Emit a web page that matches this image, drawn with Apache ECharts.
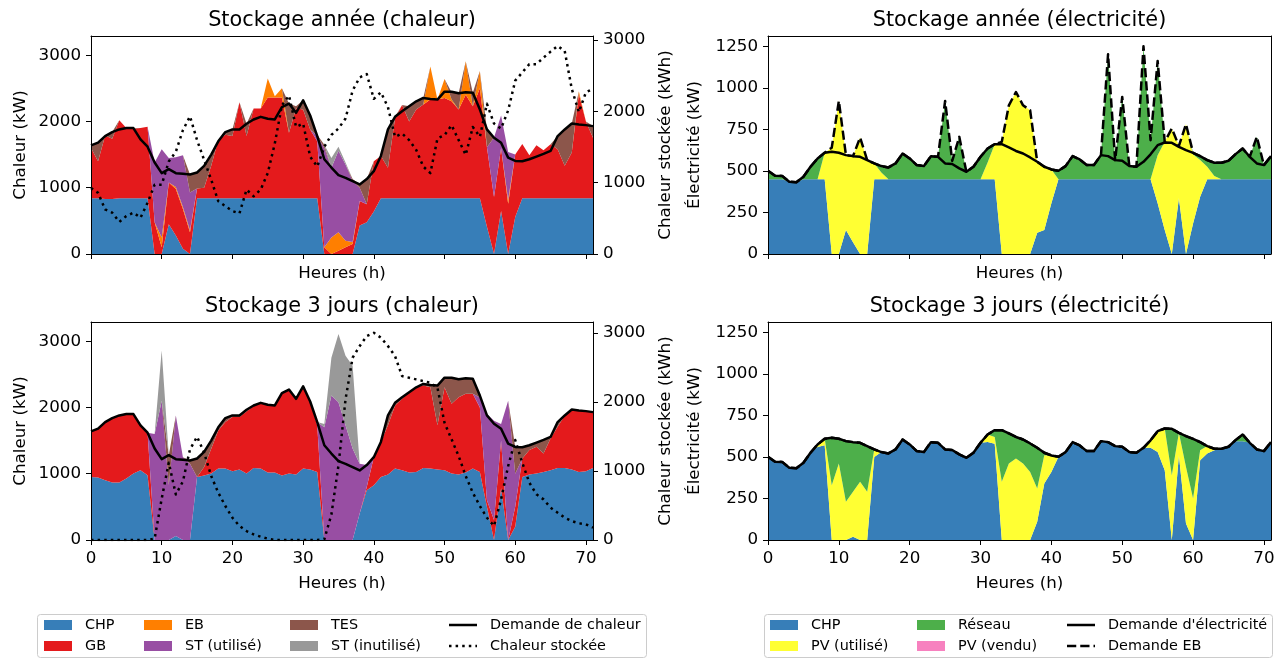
<!DOCTYPE html>
<html><head><meta charset="utf-8">
<script src="https://cdn.jsdelivr.net/npm/echarts@6/dist/echarts.min.js"></script>
<style>html,body{margin:0;padding:0;background:#fff}#c{width:1279px;height:659px}</style>
</head><body><div id="c"></div>
<script>
// ---------------- DATA ----------------
const hours = [0,1,2,3,4,5,6,7,8,9,10,11,12,13,14,15,16,17,18,19,20,21,22,23,24,25,26,27,28,29,30,31,32,33,34,35,36,37,38,39,40,41,42,43,44,45,46,47,48,49,50,51,52,53,54,55,56,57,58,59,60,61,62,63,64,65,66,67,68,69,70,71];
const heatTicks = [0,1000,2000,3000];
const elecTicks = [0,250,500,750,1000,1250];

const heatDemand = [1640,1680,1780,1840,1880,1900,1900,1730,1620,1380,1220,1280,1220,1210,1200,1230,1330,1500,1700,1840,1880,1880,1965,2030,2070,2040,2030,2215,2270,2130,2320,2090,1780,1430,1305,1190,1150,1100,1050,1130,1250,1480,1880,2070,2155,2230,2305,2355,2340,2330,2450,2450,2425,2440,2435,2180,1880,1755,1680,1455,1405,1400,1430,1470,1510,1555,1780,1880,1970,1955,1945,1930];

// Stockage année (chaleur)
const annualCHP = [840,840,830,830,840,840,840,840,840,0,0,450,280,80,0,840,840,840,840,840,840,840,840,840,840,840,840,840,840,840,840,840,840,0,0,0,0,0,430,480,640,840,840,840,840,840,840,840,840,840,840,840,840,840,840,840,410,0,650,0,560,840,840,840,840,840,840,840,840,840,840,840];
const annualGB = [760,560,960,910,1180,1060,1050,1060,1080,480,100,630,700,600,330,150,160,490,880,960,940,1450,940,1355,1355,1520,1520,1520,990,1360,1340,1040,860,100,0,50,100,150,370,270,760,640,460,1210,1410,1160,1340,1415,1490,1490,1515,1465,1340,1565,1390,1660,1200,860,950,760,940,820,650,800,725,815,740,490,690,1575,1160,915];
const annualEB = [0,0,0,0,0,0,0,0,0,0,150,0,30,30,30,0,0,0,0,0,0,0,0,0,0,290,20,140,0,0,0,0,0,0,250,280,100,30,0,0,0,0,0,0,0,0,0,0,500,0,285,25,0,505,0,260,0,0,0,60,0,0,0,0,0,0,0,0,0,40,0,0];
const annualSTused = [0,0,0,0,0,0,0,0,0,900,1330,370,450,780,570,0,0,0,0,0,0,0,0,0,0,0,0,0,0,0,0,0,80,1500,1050,1230,1150,920,200,0,0,0,0,0,0,0,0,0,0,0,0,0,0,0,0,0,0,900,490,720,0,0,0,0,0,0,0,0,0,0,0,0];
const annualTES = [40,280,0,100,0,0,10,0,0,0,0,0,0,0,270,240,330,170,0,50,100,0,185,0,0,0,0,0,440,30,140,210,20,50,0,0,0,30,50,380,0,0,580,20,0,230,125,100,0,0,0,110,245,0,205,0,270,0,0,0,0,0,0,0,0,0,200,550,440,0,0,175];
const annualSTunused = [0,0,0,0,0,0,0,0,0,0,0,0,0,0,0,0,0,0,0,0,0,0,0,0,0,0,0,0,0,0,0,0,0,0,150,60,30,0,0,0,0,0,0,0,0,0,0,0,0,0,0,0,0,0,0,0,0,0,0,0,0,0,0,0,0,0,0,0,0,0,0,0];
const annualStored = [926,857,625,579,449,532,579,509,718,972,972,1296,1435,1736,1931,1597,1319,1042,740,671,602,570,903,810,903,1135,1551,2083,2222,1782,1829,1365,1226,1504,1670,1760,1900,2292,2476,2523,2176,2268,2060,1643,1690,1597,1458,1226,1135,1620,1667,1806,1597,1389,1782,1643,2106,1829,1759,2014,2431,2546,2662,2662,2754,2838,2917,2847,2315,1990,2268,2315];

// Stockage 3 jours (chaleur)
const d3CHP = [952,945,902,867,867,928,1003,1053,977,0,0,0,60,0,0,952,975,1003,1078,1078,1038,1063,1003,1088,1078,1018,1018,975,1003,990,1078,1063,1028,0,0,0,0,0,400,750,827,952,988,1078,1053,1018,1028,1088,1078,1063,1053,1003,990,1018,1078,1028,500,0,780,0,200,952,988,1003,1028,1053,1088,1088,1063,1028,1038,1088];
const d3GB = [688,735,878,973,1013,972,897,677,643,0,0,0,0,0,0,0,125,376,576,702,817,792,937,932,992,1022,1012,1240,1267,1140,1242,1027,700,0,0,0,0,0,0,50,423,528,742,952,1077,1212,1277,1243,1228,667,1253,1052,1165,1188,1128,972,100,300,720,0,300,278,369,404,279,480,620,792,907,927,907,842];
const d3EB = [0,0,0,0,0,0,0,0,0,0,0,0,0,0,0,0,0,0,0,0,0,0,0,0,0,0,0,0,0,0,0,0,0,0,0,0,0,0,0,0,0,0,0,0,0,0,0,0,0,0,0,0,0,0,0,0,0,0,0,0,0,0,0,0,0,0,0,0,0,0,0,0];
const d3STused = [0,0,0,0,0,0,0,0,0,1600,2100,830,1820,1250,1150,0,0,0,0,0,0,0,0,0,0,0,0,0,0,0,0,0,52,1700,2180,2080,1730,1380,750,330,0,0,0,0,0,0,0,0,0,0,0,0,0,0,0,150,1300,1500,250,2100,500,0,0,0,0,0,0,0,0,0,0,0];
const d3TES = [0,0,0,0,0,0,0,0,0,0,0,450,0,0,50,278,230,121,46,60,25,25,25,10,0,0,0,0,0,0,0,0,0,0,0,0,0,0,0,0,0,0,150,40,25,0,0,24,34,600,144,395,270,234,229,30,0,0,0,0,405,170,73,63,203,22,72,0,0,0,0,0];
const d3STunused = [0,0,0,0,0,0,0,0,0,0,760,0,0,0,0,0,0,0,0,0,0,0,0,0,0,0,0,0,0,0,0,0,0,50,570,1030,1050,1250,0,0,0,0,0,0,0,0,0,0,0,0,0,0,0,0,0,0,0,0,0,0,0,0,0,0,0,0,0,0,0,0,0,0];
const d3Stored = [0,0,0,0,0,0,0,0,0,20,600,1120,660,850,1314,1497,1265,927,686,493,323,203,130,82,48,20,0,0,0,0,0,0,0,10,370,1080,2040,2642,2811,2956,3004,2932,2811,2666,2376,2352,2328,2304,2280,2207,1700,1459,1217,927,686,493,323,203,589,1072,1449,1120,831,662,589,468,396,323,275,242,227,178];

// Electricité
const elecDemand = [501,471,470,435,432,465,525,575,609,615,609,595,589,585,565,545,529,521,545,605,575,535,529,589,585,545,542,515,495,525,585,635,661,661,641,620,605,581,555,525,509,501,529,589,569,535,535,595,589,565,561,529,525,555,600,655,671,669,645,625,609,589,565,549,549,561,601,635,585,545,535,589];
const annualEBDemand = [501,471,470,435,432,465,525,575,609,640,921,595,589,701,565,545,529,521,545,605,575,535,529,589,585,921,560,705,495,525,585,635,661,675,895,975,895,865,555,525,509,501,529,589,569,535,535,595,1202,565,945,529,525,1250,685,1162,675,755,651,781,609,589,565,549,549,561,601,635,585,705,535,589];
const annualElecCHP = [450,450,450,435,432,450,450,450,450,0,0,144,70,0,0,450,450,450,450,450,450,450,450,450,450,450,450,450,450,450,450,450,450,0,0,0,0,0,128,144,305,450,450,450,450,450,450,450,450,450,450,450,450,450,450,305,144,0,335,0,184,345,450,450,450,450,450,450,450,450,450,450];
const annualPVused = [0,0,0,0,0,0,0,0,159,640,921,451,519,701,565,95,40,0,0,0,0,0,0,0,0,0,0,0,0,0,0,100,211,675,895,975,895,865,427,381,204,0,0,0,0,0,0,0,0,0,0,0,0,0,0,290,531,755,316,781,415,220,75,20,0,0,0,0,0,0,0,0];
const annualGrid = [51,21,20,0,0,15,75,125,0,0,0,0,0,0,0,0,39,71,95,155,125,85,79,139,135,471,110,255,45,75,135,85,0,0,0,0,0,0,0,0,0,51,79,139,119,85,85,145,752,115,495,79,75,800,235,567,0,0,0,0,10,24,40,79,99,111,151,185,135,255,85,139];
const annualPVsold = [0,0,0,0,0,0,0,0,0,0,0,0,0,0,0,0,0,0,0,0,0,0,0,0,0,0,0,0,0,0,0,0,0,0,0,0,0,0,0,0,0,0,0,0,0,0,0,0,0,0,0,0,0,0,0,0,0,0,0,0,0,0,0,0,0,0,0,0,0,0,0,0];

const d3ElecCHP = [501,471,470,435,432,465,525,560,570,0,0,0,20,0,0,500,529,521,545,605,575,535,529,589,585,545,542,515,495,525,585,590,580,0,0,0,0,0,110,340,410,501,529,589,569,535,535,595,589,565,561,529,525,555,555,530,420,0,510,100,0,480,520,540,549,561,595,595,585,545,535,589];
const d3PVused = [0,0,0,0,0,0,0,15,39,330,460,230,270,350,290,45,0,0,0,0,0,0,0,0,0,0,0,0,0,0,0,45,40,350,460,490,460,410,200,170,99,0,0,0,0,0,0,0,0,0,0,0,0,0,45,125,251,390,135,340,250,60,45,9,0,0,0,0,0,0,0,0];
const d3Grid = [0,0,0,0,0,0,0,0,0,285,149,365,299,235,275,0,0,0,0,0,0,0,0,0,0,0,0,0,0,0,0,0,41,311,181,130,145,171,245,15,0,0,0,0,0,0,0,0,0,0,0,0,0,0,0,0,0,279,0,185,359,49,0,0,0,0,6,40,0,0,0,0];
const d3PVsold = [0,0,0,0,0,0,0,0,0,0,0,0,0,0,0,0,0,0,0,0,0,0,0,0,0,0,0,0,0,0,0,0,0,0,0,0,0,0,0,0,0,0,0,0,0,0,0,0,0,0,0,0,0,0,0,0,0,0,0,0,0,0,0,0,0,0,0,0,0,0,0,0];
const d3EBDemand = [501,471,470,435,432,465,525,575,609,615,609,595,589,585,565,545,529,521,545,605,575,535,529,589,585,545,542,515,495,525,585,635,661,661,641,620,605,581,555,525,509,501,529,589,569,535,535,595,589,565,561,529,525,555,600,655,671,669,645,625,609,589,565,549,549,561,601,635,585,545,535,589];

// ---------------- STYLE ----------------
const FONT = 'DejaVu Sans';
const FS = 16.7;      // ticks & axis labels
const FS_LEG = 14.4;  // legend
const FS_TITLE = 20.8;
const COL = {chp:'#377eb8', gb:'#e41a1c', eb:'#ff7f00', stu:'#984ea3', tes:'#8c564b', sti:'#999999', grid:'#4daf4a', pvu:'#ffff33', pvs:'#f781bf'};
const LW = 2.5;
const DOT = [2.5, 4.1];
const DASH = [9.25, 4];
const xCat = hours.map(String);
const txt = {fontFamily: FONT, fontSize: FS, color: '#000'};
const every10 = function (i) { return i % 10 === 0; };
const plain = function (v) { return String(v); };

const grids = [
  {left: 91, top: 36, width: 502, height: 218},
  {left: 768, top: 36, width: 503, height: 218},
  {left: 91, top: 322, width: 502, height: 218},
  {left: 768, top: 322, width: 503, height: 218}
];

function xBottom(gi, showLabel, gap) {
  return {type: 'category', gridIndex: gi, data: xCat, boundaryGap: false, position: 'bottom', z: 10,
    axisLine: {onZero: false, lineStyle: {color: '#000', width: 1}},
    axisTick: {show: true, length: 5, interval: every10, lineStyle: {color: '#000', width: 1}},
    axisLabel: Object.assign({show: showLabel, interval: every10, margin: 10}, txt),
    splitLine: {show: false},
    name: 'Heures (h)', nameLocation: 'middle', nameGap: gap, nameTextStyle: txt};
}
function xTop(gi) {
  return {type: 'category', gridIndex: gi, data: xCat, boundaryGap: false, position: 'top', z: 10,
    axisLine: {onZero: false, lineStyle: {color: '#000', width: 1}},
    axisTick: {show: false}, axisLabel: {show: false}, splitLine: {show: false}};
}
function yAxis(gi, pos, max, ticks, name, gap) {
  const a = {type: 'value', gridIndex: gi, position: pos, min: 0, max: max, z: 10,
    axisLine: {show: true, onZero: false, lineStyle: {color: '#000', width: 1}},
    splitLine: {show: false}};
  if (ticks) {
    a.axisTick = {show: true, length: 5, customValues: ticks, lineStyle: {color: '#000', width: 1}};
    a.axisLabel = Object.assign({show: true, margin: 10, customValues: ticks, formatter: plain}, txt);
    a.name = name; a.nameLocation = 'middle'; a.nameGap = gap; a.nameRotate = 90; a.nameTextStyle = txt;
  } else {
    a.axisTick = {show: false}; a.axisLabel = {show: false};
  }
  return a;
}

function area(name, data, color, xi, yi, stack) {
  return {name: name, type: 'line', xAxisIndex: xi, yAxisIndex: yi, stack: stack, data: data, color: color,
    symbol: 'none', showSymbol: false, lineStyle: {width: 0}, areaStyle: {color: color, opacity: 1},
    itemStyle: {color: color}, emphasis: {disabled: true}, silent: true, z: 2};
}
function line(name, data, type, xi, yi, z) {
  return {name: name, type: 'line', xAxisIndex: xi, yAxisIndex: yi, data: data, color: '#000',
    symbol: 'none', showSymbol: false, itemStyle: {color: '#000'},
    lineStyle: {color: '#000', width: LW, type: type, cap: 'butt', join: 'round'},
    emphasis: {disabled: true}, silent: true, z: z};
}

const series = [];
// grid 0 : annual heat
series.push(area('CHP', annualCHP, COL.chp, 0, 0, 'hA'));
series.push(area('GB', annualGB, COL.gb, 0, 0, 'hA'));
series.push(area('EB', annualEB, COL.eb, 0, 0, 'hA'));
series.push(area('ST (utilisé)', annualSTused, COL.stu, 0, 0, 'hA'));
series.push(area('TES', annualTES, COL.tes, 0, 0, 'hA'));
series.push(area('ST (inutilisé)', annualSTunused, COL.sti, 0, 0, 'hA'));
series.push(line('Demande de chaleur', heatDemand, 'solid', 0, 0, 3));
series.push(line('Chaleur stockée', annualStored, DOT, 0, 1, 4));
// grid 2 : 3-day heat
series.push(area('CHP', d3CHP, COL.chp, 2, 4, 'h3'));
series.push(area('GB', d3GB, COL.gb, 2, 4, 'h3'));
series.push(area('EB', d3EB, COL.eb, 2, 4, 'h3'));
series.push(area('ST (utilisé)', d3STused, COL.stu, 2, 4, 'h3'));
series.push(area('TES', d3TES, COL.tes, 2, 4, 'h3'));
series.push(area('ST (inutilisé)', d3STunused, COL.sti, 2, 4, 'h3'));
series.push(line('Demande de chaleur', heatDemand, 'solid', 2, 4, 3));
series.push(line('Chaleur stockée', d3Stored, DOT, 2, 5, 4));
// grid 1 : annual elec
series.push(area('CHP', annualElecCHP, COL.chp, 1, 2, 'eA'));
series.push(area('PV (utilisé)', annualPVused, COL.pvu, 1, 2, 'eA'));
series.push(area('Réseau', annualGrid, COL.grid, 1, 2, 'eA'));
series.push(area('PV (vendu)', annualPVsold, COL.pvs, 1, 2, 'eA'));
series.push(line('Demande EB', annualEBDemand, DASH, 1, 2, 3));
series.push(line("Demande d'électricité", elecDemand, 'solid', 1, 2, 4));
// grid 3 : 3-day elec
series.push(area('CHP', d3ElecCHP, COL.chp, 3, 6, 'e3'));
series.push(area('PV (utilisé)', d3PVused, COL.pvu, 3, 6, 'e3'));
series.push(area('Réseau', d3Grid, COL.grid, 3, 6, 'e3'));
series.push(area('PV (vendu)', d3PVsold, COL.pvs, 3, 6, 'e3'));
series.push(line('Demande EB', d3EBDemand, DASH, 3, 6, 3));
series.push(line("Demande d'électricité", elecDemand, 'solid', 3, 6, 4));

// legend icons (28 x 10 boxes)
const pad = 'M0,0h0.05v0.05h-0.05z M0,9.95h0.05v0.05h-0.05z ';
const ICON_SOLID = 'path://' + pad + 'M0,3.75h28v2.5h-28z';
const ICON_DOT = 'path://' + pad + 'M0,3.75h2.5v2.5h-2.5z M6.6,3.75h2.5v2.5h-2.5z M13.2,3.75h2.5v2.5h-2.5z M19.8,3.75h2.5v2.5h-2.5z M26.4,3.75h1.6v2.5h-1.6z';
const ICON_DASH = 'path://' + pad + 'M0,3.75h9.25v2.5h-9.25z M13.25,3.75h9.25v2.5h-9.25z M26.5,3.75h1.5v2.5h-1.5z';

function legend(left, items) {
  return {orient: 'vertical', left: left, top: 617.5, padding: 0, itemGap: 6, itemWidth: 28, itemHeight: 10,
    selectedMode: false, itemStyle: {borderWidth: 0}, lineStyle: {width: 0},
    textStyle: {fontFamily: FONT, fontSize: FS_LEG, color: '#000', lineHeight: 15, padding: [0, 0, 0, 8]},
    data: items};
}
const R = function (n) { return {name: n, icon: 'rect'}; };

const titleStyle = {fontFamily: FONT, fontSize: FS_TITLE, fontWeight: 'normal', color: '#000'};

const option = {
  animation: false,
  backgroundColor: '#fff',
  textStyle: {fontFamily: FONT},
  title: [
    {text: 'Stockage année (chaleur)', left: 342, top: 10, textAlign: 'center', padding: 0, textStyle: titleStyle},
    {text: 'Stockage année (électricité)', left: 1019.5, top: 10, textAlign: 'center', padding: 0, textStyle: titleStyle},
    {text: 'Stockage 3 jours (chaleur)', left: 342, top: 296, textAlign: 'center', padding: 0, textStyle: titleStyle},
    {text: 'Stockage 3 jours (électricité)', left: 1019.5, top: 296, textAlign: 'center', padding: 0, textStyle: titleStyle}
  ],
  grid: grids,
  xAxis: [xBottom(0, false, 11), xBottom(1, false, 11), xBottom(2, true, 35), xBottom(3, true, 35),
          xTop(0), xTop(1), xTop(2), xTop(3)],
  yAxis: [
    yAxis(0, 'left', 3290, heatTicks, 'Chaleur (kW)', 62),
    yAxis(0, 'right', 3057, heatTicks, 'Chaleur stockée (kWh)', 64),
    yAxis(1, 'left', 1312, elecTicks, 'Électricité (kW)', 65),
    yAxis(1, 'right', 1312, null),
    yAxis(2, 'left', 3290, heatTicks, 'Chaleur (kW)', 62),
    yAxis(2, 'right', 3160, heatTicks, 'Chaleur stockée (kWh)', 64),
    yAxis(3, 'left', 1312, elecTicks, 'Électricité (kW)', 65),
    yAxis(3, 'right', 1312, null)
  ],
  legend: [
    legend(44, [R('CHP'), R('GB')]),
    legend(144, [R('EB'), R('ST (utilisé)')]),
    legend(290, [R('TES'), R('ST (inutilisé)')]),
    legend(449, [{name: 'Demande de chaleur', icon: ICON_SOLID}, {name: 'Chaleur stockée', icon: ICON_DOT}]),
    legend(770, [R('CHP'), R('PV (utilisé)')]),
    legend(917, [R('Réseau'), R('PV (vendu)')]),
    legend(1067, [{name: "Demande d'électricité", icon: ICON_SOLID}, {name: 'Demande EB', icon: ICON_DASH}])
  ],
  graphic: {elements: [
    {type: 'rect', left: 37, top: 614, z: -1, shape: {width: 609, height: 43, r: 3}, style: {fill: 'rgba(255,255,255,0.8)', stroke: '#cccccc', lineWidth: 1}},
    {type: 'rect', left: 764, top: 614, z: -1, shape: {width: 508, height: 43, r: 3}, style: {fill: 'rgba(255,255,255,0.8)', stroke: '#cccccc', lineWidth: 1}}
  ]},
  series: series
};

const chart = echarts.init(document.getElementById('c'), null, {renderer: 'canvas', width: 1279, height: 659});
chart.setOption(option);
</script>
</body></html>
